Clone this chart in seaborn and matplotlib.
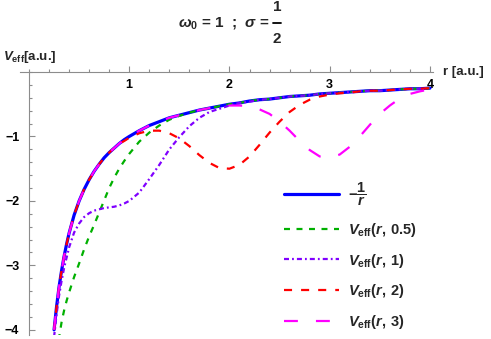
import matplotlib
matplotlib.use("Agg")
import matplotlib.pyplot as plt
from matplotlib.lines import Line2D
from matplotlib.ticker import FixedLocator, MultipleLocator
import seaborn as sns

# radius grid [a.u.] and the curves
r = [0.25, 0.275, 0.3, 0.325, 0.35, 0.375, 0.4, 0.45, 0.5, 0.55, 0.6, 0.65,
     0.7, 0.75, 0.8, 0.85, 0.9, 0.95, 1.0, 1.1, 1.2, 1.3, 1.4, 1.5, 1.6, 1.7,
     1.8, 1.9, 2.0, 2.1, 2.2, 2.3, 2.4, 2.5, 2.6, 2.7, 2.8, 2.9, 3.0, 3.1,
     3.2, 3.3, 3.4, 3.5, 3.6, 3.7, 3.8, 3.9, 4.0]

# -1/r
inv_r = [-4.00, -3.64, -3.33, -3.08, -2.86, -2.67, -2.50, -2.22, -2.00, -1.82,
         -1.67, -1.54, -1.43, -1.33, -1.25, -1.18, -1.11, -1.05, -1.00, -0.91,
         -0.83, -0.77, -0.71, -0.67, -0.63, -0.59, -0.56, -0.53, -0.50, -0.48,
         -0.45, -0.43, -0.42, -0.40, -0.38, -0.37, -0.36, -0.34, -0.33, -0.32,
         -0.31, -0.30, -0.29, -0.29, -0.28, -0.27, -0.26, -0.26, -0.25]

# V_eff(r, 0.5), r = 0.25 .. 1.8, then it sits on -1/r
v_05 = [-4.90, -4.45, -4.12, -3.88, -3.70, -3.55, -3.42, -3.18, -2.97, -2.75,
        -2.55, -2.37, -2.18, -1.99, -1.80, -1.64, -1.50, -1.38, -1.27, -1.08,
        -0.94, -0.83, -0.74, -0.68, -0.63, -0.59, -0.56] + inv_r[27:]

# V_eff(r, 1), r = 0.25 .. 2.3
v_1 = [-4.11, -3.76, -3.47, -3.24, -3.04, -2.88, -2.72, -2.49, -2.35, -2.25,
       -2.19, -2.15, -2.13, -2.11, -2.10, -2.09, -2.07, -2.04, -2.00, -1.87,
       -1.66, -1.44, -1.20, -1.01, -0.84, -0.71, -0.62, -0.57, -0.52, -0.48,
       -0.46, -0.43] + inv_r[32:]

# V_eff(r, 2), dip between r = 0.95 and 3.3
v_2 = inv_r[:17] + [-1.07, -1.02, -0.95, -0.91, -0.91, -0.95, -1.03, -1.15,
                    -1.29, -1.41, -1.49, -1.50, -1.44, -1.31, -1.13, -0.94,
                    -0.77, -0.62, -0.51, -0.43, -0.38, -0.35, -0.33, -0.32,
                    -0.30] + inv_r[42:]

# V_eff(r, 3), dip between r = 2.0 and 4.0
v_3 = inv_r[:28] + [-0.52, -0.52, -0.53, -0.58, -0.65, -0.77, -0.91, -1.07,
                    -1.21, -1.31, -1.33, -1.28, -1.16, -1.00, -0.82, -0.65,
                    -0.52, -0.41, -0.34, -0.30, -0.27]

sns.set_style("white")
plt.rcParams["font.family"] = ["Liberation Sans", "DejaVu Sans"]
plt.rcParams["font.weight"] = "bold"
plt.rcParams["mathtext.fontset"] = "custom"
plt.rcParams["mathtext.rm"] = "Liberation Sans:bold"
plt.rcParams["mathtext.bf"] = "Liberation Sans:bold"
plt.rcParams["mathtext.it"] = "Liberation Sans:bold:italic"
plt.rcParams["lines.scale_dashes"] = False

fig = plt.figure(figsize=(4.91, 3.39), dpi=100)
ax = fig.add_axes([0.0407, 0.0118, 0.8411, 0.7758])

series = [
    (inv_r, "#0000ff", 2.3, "-", r"$-\dfrac{1}{r}$"),
    (v_05, "#00b000", 1.6, (0, (4.3, 4.7)), r"$V_{\mathrm{eff}}(r,\,0.5)$"),
    (v_1, "#8000ff", 1.6, (0, (3.6, 2.2, 1.3, 2.2)), r"$V_{\mathrm{eff}}(r,\,1)$"),
    (v_2, "#ff0000", 1.6, (0, (5.8, 6.5)), r"$V_{\mathrm{eff}}(r,\,2)$"),
    (v_3, "#ff00ff", 1.6, (0, (10, 13)), r"$V_{\mathrm{eff}}(r,\,3)$"),
]
for vals, col, lw, ls, lab in series:
    sns.lineplot(x=r, y=vals, ax=ax, color=col, lw=lw, linestyle=ls,
                 label=lab, sort=False, errorbar=None)

ax.set_xlim(-0.09, 4.03)
ax.set_ylim(-4.08, 0)

# Mathematica-style axes crossing at the origin
for s in ["top", "right"]:
    ax.spines[s].set_visible(False)
ax.spines["bottom"].set_position(("data", 0))
ax.spines["left"].set_position(("data", 0))
for s in ["bottom", "left"]:
    ax.spines[s].set_color("#8c8c8c")
    ax.spines[s].set_linewidth(0.8)

ax.xaxis.set_major_locator(FixedLocator([1, 2, 3, 4]))
ax.xaxis.set_minor_locator(MultipleLocator(0.2))
ax.yaxis.set_major_locator(FixedLocator([-1, -2, -3, -4]))
ax.yaxis.set_minor_locator(MultipleLocator(0.2))
ax.tick_params(which="both", direction="in", color="#8c8c8c", width=0.8,
               bottom=True, left=True, labelsize=9, labelcolor="black")
ax.tick_params(which="major", length=4.5)
ax.tick_params(which="minor", length=2.5)
ax.tick_params(axis="x", pad=5)
ax.tick_params(axis="y", pad=7)
for t in ax.get_xticklabels() + ax.get_yticklabels():
    t.set_fontweight("bold")

ax.text(4.13, 0, "r [a.u.]", fontsize=9.5, fontweight="bold",
        ha="left", va="center", clip_on=False)
fig.text(0.006, 0.833, r"$V_{\mathrm{eff}}$[a.u.]", fontsize=9.5,
         fontweight="bold", ha="left", va="center")

# title with a stacked one-half
fig.text(0.549, 0.933, r"$\omega_0$ = 1  ;  $\sigma$ =", fontsize=11,
         fontweight="bold", ha="right", va="center")
fig.text(0.564, 0.978, "1", fontsize=11, fontweight="bold",
         ha="center", va="center")
fig.text(0.564, 0.886, "2", fontsize=11, fontweight="bold",
         ha="center", va="center")
fig.add_artist(Line2D([0.556, 0.572], [0.932, 0.932], color="black",
                      lw=1.3, transform=fig.transFigure))

ax.legend(loc="upper left", bbox_to_anchor=(0.578, 0.468),
          bbox_transform=fig.transFigure, frameon=False, fontsize=10.5,
          handlelength=3.8, handletextpad=0.6, labelspacing=0.88,
          borderaxespad=0, borderpad=0)

plt.savefig("out.png", dpi=100)
